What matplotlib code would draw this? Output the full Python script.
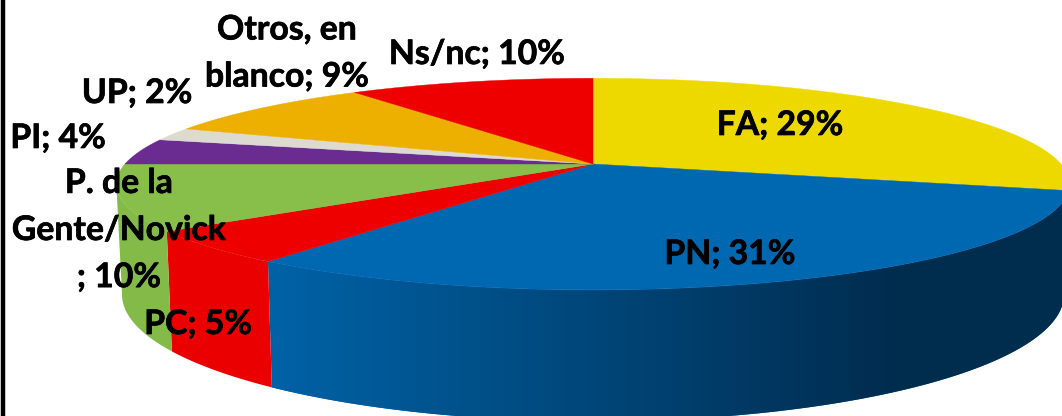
import numpy as np
import matplotlib
matplotlib.use("Agg")
import matplotlib.pyplot as plt
import matplotlib.patheffects as pe
from matplotlib.colors import LinearSegmentedColormap
from matplotlib.patches import Polygon

# porcentajes, en sentido horario desde arriba
partidos = ["FA", "PN", "PC", "P. de la Gente/Novick", "PI", "UP", "Otros, en blanco", "Ns/nc"]
valores = [29, 31, 5, 10, 4, 2, 9, 10]
colores = ["#EDD900", "#0068B0", "#EE0000", "#88BF4A", "#6A2C90", "#DDDAD2", "#EEB000", "#EE0000"]
# degradado del lado: color en x=272 y en x=900
lado_ini = ["#002C4E", "#0062A6", "#EB0000", "#84BA48", "#6A2C90", "#DDDAD2", "#EEB000", "#EE0000"]
lado_fin = ["#002C4E", "#002C4E", "#EB0000", "#84BA48", "#6A2C90", "#DDDAD2", "#EEB000", "#EE0000"]

etiquetas = ["FA; 29%", "PN; 31%", "PC; 5%", "P. de la\nGente/Novick\n; 10%", "PI; 4%", "UP; 2%", "Otros, en\nblanco; 9%", "Ns/nc; 10%"]
pos_etiquetas = [(780, 125), (730, 254), (198, 324), (119, 230), (58, 138), (137, 93), (287, 53), (477, 54)]

# geometria del pie en pixeles
CX, CY = 593, 164
R, S, K = 468, 102, 0.19
PROF = 106.5


def proyectar(theta):
    u, v = np.sin(theta), -np.cos(theta)
    w = 1 - K * v
    return CX + R * u / w, CY + S * v / w, w


fig = plt.figure(figsize=(10.62, 4.16), dpi=100)
ax = fig.add_axes([0, 0, 1, 1])
ax.set_xlim(0, 1062)
ax.set_ylim(416, 0)
ax.axis("off")

bordes = np.cumsum([0] + valores) / sum(valores) * 2 * np.pi
# angulos donde el lado deja de verse
lim_der = np.pi / 2 + np.arcsin(K)
lim_izq = 3 * np.pi / 2 - np.arcsin(K)

# lados primero, la tapa los cubre
for i in range(len(valores)):
    ini = max(bordes[i], lim_der)
    fin = min(bordes[i + 1], lim_izq)
    if fin <= ini:
        continue
    tt = np.linspace(ini, fin, 120)
    x, y, w = proyectar(tt)
    xb = CX + (x - CX) * 0.988
    yb = y + PROF / w
    poly = Polygon(np.c_[np.r_[x, xb[::-1]], np.r_[y, yb[::-1]]], closed=True,
                   facecolor=lado_ini[i], edgecolor="none", zorder=1)
    ax.add_patch(poly)
    cmap = LinearSegmentedColormap.from_list("lado", [lado_ini[i], lado_fin[i]])
    im = ax.imshow(np.linspace(0, 1, 256)[None, :], cmap=cmap, extent=(272, 900, 416, 0),
                   aspect="auto", zorder=1.5)
    # a la derecha del degradado se rellena con el color final
    im2 = ax.imshow(np.ones((1, 2)), cmap=cmap, vmin=0, vmax=1, extent=(900, 1062, 416, 0),
                    aspect="auto", zorder=1.5)
    im.set_clip_path(poly)
    im2.set_clip_path(poly)
ax.set_xlim(0, 1062)
ax.set_ylim(416, 0)

# tapa superior
for i in range(len(valores)):
    tt = np.linspace(bordes[i], bordes[i + 1], 80)
    x, y, _ = proyectar(tt)
    ax.fill(np.r_[CX, x], np.r_[CY, y], color=colores[i], lw=0.3, zorder=2)

for txt, (x, y) in zip(etiquetas, pos_etiquetas):
    ax.text(x, y, txt, ha="center", va="center", family="Lato", fontweight="bold",
            fontsize=24.3, linespacing=1.58, color="black", zorder=3,
            path_effects=[pe.withStroke(linewidth=0.5, foreground="black")])

# linea negra a la izquierda
ax.axvline(3, color="black", lw=3.2, zorder=4)

fig.savefig("out.png", dpi=100)
